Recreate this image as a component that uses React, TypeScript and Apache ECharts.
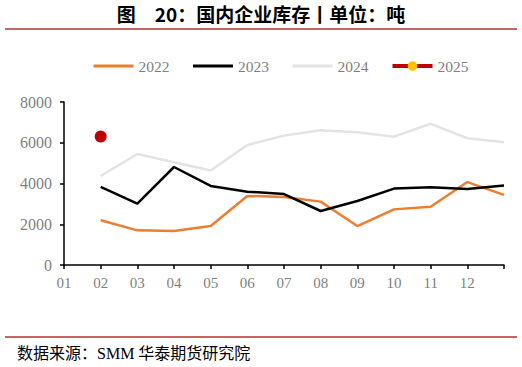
import React, { useEffect, useRef } from "react";
import * as echarts from "echarts";

const months = ["01", "02", "03", "04", "05", "06", "07", "08", "09", "10", "11", "12", ""];
const s2022 = [null, 2200, 1700, 1670, 1910, 3390, 3340, 3110, 1910, 2730, 2860, 4070, 3440];
const s2023 = [null, 3830, 3010, 4810, 3880, 3600, 3480, 2650, 3140, 3750, 3810, 3730, 3900];
const s2024 = [null, 4370, 5450, 5040, 4640, 5890, 6350, 6610, 6510, 6300, 6930, 6220, 6020];
const s2025 = [null, 6310, null, null, null, null, null, null, null, null, null, null, null];
const seriesNames = ["2022", "2023", "2024", "2025"];
const yMax = 8000;
const yInterval = 2000;

export default function App() {
  const ref = useRef<HTMLDivElement>(null);
  useEffect(() => {
    if (!ref.current) return;
    const chart = echarts.init(ref.current, null, { renderer: "svg" });
    const serif = "'Liberation Serif', 'Times New Roman', serif";
    chart.setOption({
      animation: false,
      backgroundColor: "#ffffff",
      grid: { left: 64, right: 18, top: 102, bottom: 102 },
      legend: {
        top: 53,
        left: 87,
        itemWidth: 40,
        itemHeight: 12,
        itemGap: 22,
        textStyle: { color: "#7f7f7f", fontFamily: serif, fontSize: 15.5 },
        data: [
          { name: seriesNames[0], itemStyle: { opacity: 0 }, lineStyle: { width: 3 } },
          { name: seriesNames[1], itemStyle: { opacity: 0 }, lineStyle: { width: 3 } },
          { name: seriesNames[2], itemStyle: { opacity: 0 }, lineStyle: { width: 3 } },
          { name: seriesNames[3], itemStyle: { color: "#FFC000" }, lineStyle: { width: 4 } },
        ],
      },
      xAxis: {
        type: "category",
        data: months,
        boundaryGap: false,
        axisLine: { lineStyle: { color: "#000", width: 1.5 } },
        axisTick: { show: true, length: 4, lineStyle: { color: "#000", width: 1.5 }, alignWithLabel: true },
        axisLabel: { color: "#7f7f7f", fontFamily: serif, fontSize: 15, margin: 10 },
        splitLine: { show: false },
      },
      yAxis: {
        type: "value",
        min: 0,
        max: yMax,
        interval: yInterval,
        axisLine: { show: true, lineStyle: { color: "#000", width: 1.5 } },
        axisTick: { show: true, length: 4, lineStyle: { color: "#000", width: 1.5 } },
        axisLabel: { color: "#7f7f7f", fontFamily: serif, fontSize: 16, margin: 12, formatter: (v: number) => String(v) },
        splitLine: { show: false },
      },
      series: [
        {
          name: seriesNames[0], type: "line", data: s2022, symbol: "none",
          lineStyle: { color: "#ED7D31", width: 2.5 }, itemStyle: { color: "#ED7D31" },
        },
        {
          name: seriesNames[1], type: "line", data: s2023, symbol: "none",
          lineStyle: { color: "#000000", width: 2.5 }, itemStyle: { color: "#000000" },
        },
        {
          name: seriesNames[2], type: "line", data: s2024, symbol: "none",
          lineStyle: { color: "#E3E3E3", width: 2.5 }, itemStyle: { color: "#E3E3E3" },
        },
        {
          name: seriesNames[3], type: "line", data: s2025, symbol: "circle", symbolSize: 12,
          lineStyle: { color: "#C00000", width: 3.5 }, itemStyle: { color: "#C00000" },
        },
      ],
      graphic: [
        {
          type: "text", left: "center", top: 4,
          style: {
            text: "图　20：国内企业库存丨单位：吨",
            fontFamily: "'Noto Sans CJK SC', sans-serif", fontWeight: "bold", fontSize: 19, fill: "#000",
          },
        },
        { type: "line", shape: { x1: 5, y1: 29, x2: 517, y2: 29 }, style: { stroke: "#C86464", lineWidth: 2 } },
        { type: "line", shape: { x1: 5, y1: 337, x2: 517, y2: 337 }, style: { stroke: "#C86464", lineWidth: 2 } },
        {
          type: "text", left: 17, top: 345,
          style: {
            text: "数据来源：SMM 华泰期货研究院",
            fontFamily: "'Liberation Serif', 'Noto Sans CJK SC', serif", fontSize: 16, fill: "#000",
          },
        },
      ],
    });
    return () => chart.dispose();
  }, []);
  return <div ref={ref} style={{ position: "absolute", left: 0, top: 0, width: 522, height: 367 }} />;
}
